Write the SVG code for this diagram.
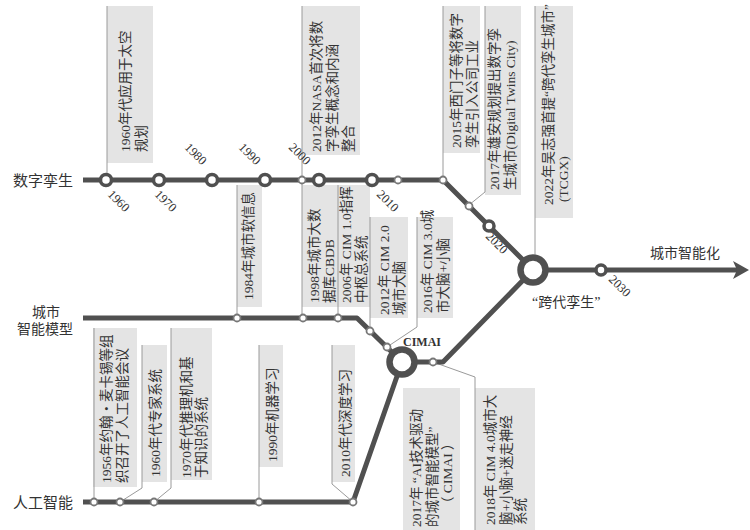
<svg xmlns="http://www.w3.org/2000/svg" width="750" height="530" viewBox="0 0 750 530">
<style>
text{font-family:'Liberation Serif','Noto Sans CJK SC',serif;fill:#333}
.bt{font-size:13.5px}
.yr{font-size:12.5px}
.lb{font-size:15px}
.box{fill:#e4e4e4}
.ld{fill:none;stroke:#9a9a9a;stroke-width:1}
.ln{fill:none;stroke:#505050;stroke-width:5;stroke-linejoin:round}
.s{fill:#fff;stroke:#777;stroke-width:1.8}
.m{fill:#fff;stroke:#505050;stroke-width:3.5}
.h{fill:#fff;stroke:#505050;stroke-width:6.5}
</style>
<g id="boxes">
<g id="box-1960space"><rect class="box" x="107" y="6" width="46" height="157"/><text class="bt" transform="translate(130,152) rotate(-90)">1960年代应用于太空</text><text class="bt" transform="translate(146,152) rotate(-90)">规划</text></g>
<g id="box-2012nasa"><rect class="box" x="302" y="6" width="58" height="149"/><text class="bt" transform="translate(321,152) rotate(-90)">2012年NASA首次将数</text><text class="bt" transform="translate(337,152) rotate(-90)">字孪生概念和内涵</text><text class="bt" transform="translate(353,152) rotate(-90)">整合</text></g>
<g id="box-2015"><rect class="box" x="443" y="6" width="37" height="147"/><text class="bt" transform="translate(461,148) rotate(-90)">2015年西门子等将数字</text><text class="bt" transform="translate(477,148) rotate(-90)">孪生引入公司工业</text></g>
<g id="box-2017xa"><rect class="box" x="485" y="6" width="36" height="189"/><text class="bt" transform="translate(499,190) rotate(-90)">2017年雄安规划提出数字孪</text><text class="bt" transform="translate(515,190) rotate(-90)">生城市(Digital Twins City)</text></g>
<g id="box-2022"><rect class="box" x="535" y="6" width="38" height="212"/><text class="bt" transform="translate(553,205) rotate(-90)">2022年吴志强首提“跨代孪生城市”</text><text class="bt" transform="translate(568,202) rotate(-90)">(TCGX)</text></g>
<g id="box-1984"><rect class="box" x="237" y="185" width="25" height="122"/><text class="bt" transform="translate(253,300) rotate(-90)">1984年城市软信息</text></g>
<g id="box-1998"><rect class="box" x="302" y="185" width="36" height="122"/><text class="bt" transform="translate(319,303) rotate(-90)">1998年城市大数</text><text class="bt" transform="translate(334,303) rotate(-90)">据库CBDB</text></g>
<g id="box-2006"><rect class="box" x="338" y="185" width="32" height="122"/><text class="bt" transform="translate(351,303) rotate(-90)">2006年 CIM 1.0指挥</text><text class="bt" transform="translate(366,303) rotate(-90)">中枢总系统</text></g>
<g id="box-2012cim"><rect class="box" x="370" y="217" width="38" height="101"/><text class="bt" transform="translate(389,315) rotate(-90)">2012年 CIM 2.0</text><text class="bt" transform="translate(404,315) rotate(-90)">城市大脑</text></g>
<g id="box-2016"><rect class="box" x="417" y="217" width="36" height="101"/><text class="bt" transform="translate(432,313) rotate(-90)">2016年 CIM 3.0城</text><text class="bt" transform="translate(448,313) rotate(-90)">市大脑+小脑</text></g>
<g id="box-1956"><rect class="box" x="93" y="328" width="44" height="159"/><text class="bt" transform="translate(111,483) rotate(-90)">1956年约翰・麦卡锡等组</text><text class="bt" transform="translate(127,483) rotate(-90)">织召开了人工智能会议</text></g>
<g id="box-1960expert"><rect class="box" x="142" y="345" width="25" height="137"/><text class="bt" transform="translate(160,477) rotate(-90)">1960年代专家系统</text></g>
<g id="box-1970"><rect class="box" x="171" y="328" width="41" height="152"/><text class="bt" transform="translate(191,478) rotate(-90)">1970年代推理机和基</text><text class="bt" transform="translate(206,478) rotate(-90)">于知识的系统</text></g>
<g id="box-1990"><rect class="box" x="259" y="345" width="24" height="122"/><text class="bt" transform="translate(277,462) rotate(-90)">1990年机器学习</text></g>
<g id="box-2010"><rect class="box" x="332" y="345" width="23" height="137"/><text class="bt" transform="translate(350,477) rotate(-90)">2010年代深度学习</text></g>
<g id="box-2017cimai"><rect class="box" x="403" y="388" width="57" height="142"/><text class="bt" transform="translate(421,527) rotate(-90)">2017年 “AI技术驱动</text><text class="bt" transform="translate(437,527) rotate(-90)">的城市智能模型”</text><text class="bt" transform="translate(452,510) rotate(-90)">（ CIMAI ）</text></g>
<g id="box-2018"><rect class="box" x="475" y="388" width="60" height="142"/><text class="bt" transform="translate(495,525) rotate(-90)">2018年 CIM 4.0城市大</text><text class="bt" transform="translate(511,525) rotate(-90)">脑+小脑+迷走神经</text><text class="bt" transform="translate(525,525) rotate(-90)">系统</text></g>
</g>
<g id="connectors">
<g id="leaders">
<path class="ld" d="M107,6V180"/>
<path class="ld" d="M302,6V318"/>
<path class="ld" d="M443,6V180"/>
<path class="ld" d="M469,205L485,192V6"/>
<path class="ld" d="M535,6V256"/>
<path class="ld" d="M237,185V318"/>
<path class="ld" d="M338,185V318"/>
<path class="ld" d="M370,217V333"/>
<path class="ld" d="M387,347L417,327V217"/>
<path class="ld" d="M94,328V502"/>
<path class="ld" d="M120,502L142,488V345"/>
<path class="ld" d="M154,502L171,488V328"/>
<path class="ld" d="M259,345V502"/>
<path class="ld" d="M353,502L332,484V345"/>
<path class="ld" d="M433,362L475,377V530"/>
</g>
<path class="ln" d="M83,180H443L533,270H738"/>
<path class="ln" d="M83,318H357L402,362H443L533,270"/>
<path class="ln" d="M83,502H353L402,362"/>
<polygon points="749,270 733,261 737,270 733,279" fill="#505050"/>
</g>
<g id="stations">
<circle class="m" cx="106" cy="180" r="5.5"/>
<circle class="m" cx="159" cy="180" r="5.5"/>
<circle class="m" cx="212" cy="180" r="5.5"/>
<circle class="m" cx="265" cy="180" r="5.5"/>
<circle class="s" cx="302" cy="180" r="3.5"/>
<circle class="m" cx="319" cy="180" r="5.5"/>
<circle class="m" cx="372" cy="180" r="5.5"/>
<circle class="s" cx="398" cy="180" r="3.5"/>
<circle class="s" cx="443" cy="180" r="3.5"/>
<circle class="s" cx="469" cy="206" r="3.5"/>
<circle class="m" cx="489" cy="226" r="5"/>
<circle class="m" cx="601" cy="270" r="5"/>
<circle class="s" cx="237" cy="318" r="3.5"/>
<circle class="s" cx="303" cy="318" r="3.5"/>
<circle class="s" cx="338" cy="318" r="3.5"/>
<circle class="s" cx="370" cy="331" r="3.5"/>
<circle class="s" cx="387" cy="347" r="3.5"/>
<circle class="s" cx="433" cy="362" r="3.5"/>
<circle class="s" cx="94" cy="502" r="3.5"/>
<circle class="s" cx="120" cy="502" r="3.5"/>
<circle class="s" cx="154" cy="502" r="3.5"/>
<circle class="s" cx="259" cy="502" r="3.5"/>
<circle class="s" cx="353" cy="502" r="3.5"/>
<circle class="h" cx="533" cy="270" r="12.5"/>
<circle class="h" cx="402" cy="362" r="12.5"/>
</g>
<g id="years">
<text class="yr" transform="translate(107,195) rotate(45)">1960</text>
<text class="yr" transform="translate(154,195) rotate(45)">1970</text>
<text class="yr" transform="translate(184,148) rotate(45)">1980</text>
<text class="yr" transform="translate(238,148) rotate(45)">1990</text>
<text class="yr" transform="translate(288,148) rotate(45)">2000</text>
<text class="yr" transform="translate(376,195) rotate(45)">2010</text>
<text class="yr" transform="translate(485,237) rotate(45)">2020</text>
<text class="yr" transform="translate(608,280) rotate(45)">2030</text>
</g>
<g id="labels">
<text class="lb" x="13" y="186">数字孪生</text>
<text class="lb" x="46" y="317" text-anchor="middle" style="font-size:14px">城市</text>
<text class="lb" x="45" y="334" text-anchor="middle" style="font-size:14px">智能模型</text>
<text class="lb" x="13" y="508">人工智能</text>
<text class="lb" x="650" y="258" style="font-size:14px">城市智能化</text>
<text class="lb" x="532" y="307" style="font-size:14px">“跨代孪生”</text>
<text x="403" y="346" style="font-size:12px;font-weight:bold">CIMAI</text>
</g>
</svg>
